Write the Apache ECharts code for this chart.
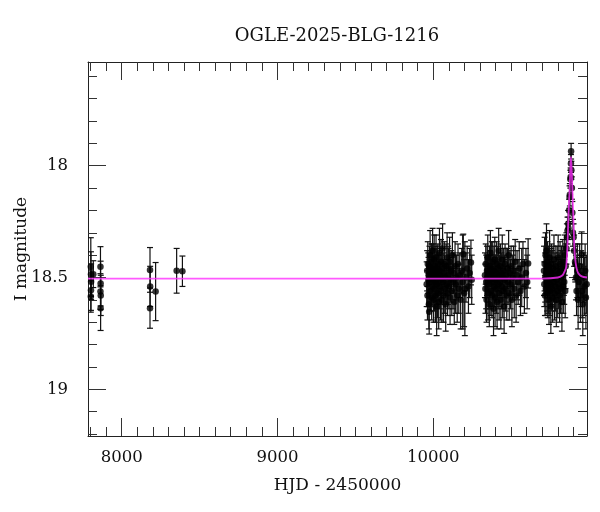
<!DOCTYPE html>
<html>
<head>
<meta charset="utf-8">
<script src="https://cdn.jsdelivr.net/npm/echarts@6/dist/echarts.min.js"></script>
<style>html,body{margin:0;padding:0;background:#fff}#c{width:600px;height:512px}</style>
</head>
<body>
<div id="c"></div>
<script>
// ---- data (HJD-2450000, I mag, error) ----
const titleText = 'OGLE-2025-BLG-1216';
const xMajor = [8000, 9000, 10000];
const xMinor = [7800, 7900, 8100, 8200, 8300, 8400, 8500, 8600, 8700, 8800, 8900, 9100, 9200, 9300, 9400, 9500, 9600, 9700, 9800, 9900, 10100, 10200, 10300, 10400, 10500, 10600, 10700, 10800, 10900];
const yMajor = [18, 18.5, 19];
const yMinor = [17.6, 17.7, 17.8, 17.9, 18.1, 18.2, 18.3, 18.4, 18.6, 18.7, 18.8, 18.9, 19.1, 19.2];

const early = [[7802,18.452,0.13],[7803,18.485,0.10],[7804,18.519,0.08],[7803,18.557,0.09],[7802,18.585,0.07],[7818,18.485,0.06],[7864,18.452,0.09],[7865,18.527,0.10],[7864,18.563,0.08],[7866,18.58,0.09],[7865,18.637,0.10]];
const mid = [[8182,18.466,0.10],[8183,18.54,0.09],[8182,18.637,0.09],[8218,18.563,0.13],[8353,18.47,0.10],[8390,18.472,0.068]];
const season4 = [[9958,18.53,.10],[9961,18.47,.09],[9963,18.58,.11],[9965,18.44,.10],[9968,18.51,.12],[9970,18.49,.08],[9972,18.62,.11],[9974,18.653,.10],[9976,18.45,.09],[9978,18.52,.10],[9980,18.40,.11],[9982,18.56,.09],[9984,18.48,.10],[9986,18.50,.12],[9988,18.43,.08],[9990,18.59,.10],[9992,18.46,.11],[9994,18.54,.09],[9996,18.38,.10],[9998,18.51,.08],[10000,18.47,.12],[10002,18.60,.10],[10004,18.49,.09],[10006,18.42,.11],[10008,18.55,.10],[10010,18.50,.13],[10012,18.45,.09],[10014,18.58,.12],[10016,18.52,.08],[10018,18.41,.10],[10020,18.48,.11],[10022,18.63,.13],[10024,18.53,.09],[10026,18.46,.10],[10028,18.57,.11],[10030,18.44,.09],[10032,18.50,.10],[10035,18.61,.12],[10037,18.47,.08],[10040,18.39,.11],[10042,18.54,.10],[10045,18.49,.09],[10047,18.56,.13],[10050,18.43,.10],[10052,18.51,.11],[10055,18.60,.10],[10058,18.46,.09],[10060,18.37,.11],[10063,18.52,.10],[10066,18.58,.12],[10068,18.48,.09],[10071,18.44,.10],[10074,18.55,.11],[10077,18.50,.08],[10080,18.62,.12],[10083,18.45,.10],[10086,18.53,.09],[10089,18.41,.11],[10092,18.57,.10],[10095,18.49,.13],[10098,18.46,.09],[10101,18.54,.10],[10105,18.43,.11],[10108,18.59,.12],[10112,18.51,.10],[10115,18.47,.09],[10119,18.56,.11],[10123,18.40,.10],[10127,18.52,.12],[10131,18.48,.09],[10135,18.61,.10],[10140,18.45,.11],[10144,18.53,.13],[10149,18.50,.10],[10154,18.58,.12],[10159,18.44,.09],[10164,18.55,.11],[10170,18.49,.10],[10176,18.60,.13],[10183,18.47,.10],[10189,18.52,.21],[10193,18.396,.09],[10198,18.57,.15],[10203,18.55,.21],[10210,18.50,.11],[10218,18.46,.10],[10226,18.54,.12],[10234,18.48,.11],[10242,18.433,.10],[10247,18.51,.11]];
const season5 = [[10332,18.49,.10],[10335,18.55,.11],[10337,18.44,.09],[10340,18.52,.12],[10342,18.60,.10],[10345,18.47,.11],[10347,18.50,.09],[10350,18.41,.10],[10352,18.57,.12],[10355,18.48,.08],[10357,18.53,.11],[10360,18.62,.10],[10362,18.45,.09],[10365,18.51,.13],[10367,18.39,.10],[10370,18.56,.11],[10372,18.49,.09],[10375,18.46,.12],[10377,18.58,.10],[10380,18.52,.11],[10382,18.43,.09],[10385,18.50,.10],[10387,18.64,.12],[10390,18.47,.11],[10392,18.54,.09],[10395,18.42,.10],[10397,18.59,.13],[10400,18.51,.10],[10402,18.48,.08],[10405,18.55,.11],[10407,18.44,.10],[10410,18.61,.12],[10412,18.50,.09],[10415,18.46,.10],[10417,18.53,.11],[10420,18.38,.10],[10423,18.57,.12],[10425,18.49,.09],[10428,18.52,.11],[10431,18.45,.10],[10434,18.60,.13],[10437,18.48,.09],[10440,18.54,.10],[10443,18.42,.11],[10446,18.56,.12],[10449,18.50,.09],[10452,18.47,.10],[10455,18.63,.12],[10458,18.51,.11],[10461,18.44,.09],[10465,18.55,.10],[10468,18.49,.12],[10472,18.58,.11],[10476,18.46,.09],[10480,18.52,.10],[10484,18.40,.11],[10488,18.57,.12],[10492,18.48,.10],[10496,18.53,.11],[10500,18.45,.09],[10505,18.60,.12],[10510,18.50,.10],[10515,18.47,.11],[10520,18.55,.13],[10526,18.43,.10],[10532,18.58,.12],[10538,18.49,.11],[10545,18.52,.10],[10552,18.46,.12],[10560,18.56,.11],[10568,18.50,.13],[10576,18.44,.10],[10585,18.54,.12],[10595,18.48,.11],[10603,18.52,.12],[10609,18.437,.11]];
const season6 = [[10711,18.47,.11],[10713,18.53,.10],[10715,18.44,.12],[10717,18.58,.09],[10719,18.50,.11],[10721,18.40,.10],[10723,18.55,.12],[10725,18.48,.09],[10727,18.38,.12],[10729,18.46,.10],[10731,18.52,.13],[10733,18.43,.09],[10735,18.57,.11],[10737,18.49,.10],[10739,18.54,.12],[10741,18.45,.09],[10743,18.60,.11],[10745,18.51,.10],[10747,18.41,.12],[10749,18.56,.11],[10751,18.47,.09],[10753,18.53,.10],[10755,18.63,.12],[10757,18.48,.11],[10759,18.44,.09],[10761,18.55,.10],[10763,18.50,.12],[10766,18.59,.11],[10769,18.46,.10],[10772,18.52,.09],[10775,18.42,.11],[10778,18.57,.12],[10781,18.49,.10],[10784,18.54,.11],[10787,18.45,.09],[10790,18.60,.12],[10793,18.51,.10],[10796,18.47,.11],[10799,18.56,.12],[10802,18.41,.10],[10805,18.53,.11],[10808,18.48,.09],[10811,18.58,.12],[10814,18.44,.10],[10817,18.55,.11],[10820,18.50,.12],[10823,18.46,.10],[10826,18.61,.13],[10829,18.49,.11],[10832,18.43,.10],[10835,18.54,.12],[10838,18.47,.11],[10841,18.52,.10],[10844,18.40,.09],[10847,18.56,.12],[10850,18.45,.10],
  [10855,18.37,.07],[10858,18.32,.06],[10862,18.29,.06],[10866,18.26,.06],[10868,18.28,.05],[10872,18.20,.05],[10875,18.14,.05],[10877,18.13,.05],[10880,18.06,.04],[10882,18.05,.04],[10884,17.99,.04],[10885,17.935,.035],[10887,18.02,.04],[10890,18.10,.05],[10893,18.21,.05],[10897,18.30,.06],[10901,18.32,.06],[10904,18.38,.07],[10910,18.43,.08],
  [10912,18.44,.08],[10916,18.50,.10],[10920,18.56,.11],[10925,18.47,.12],[10930,18.60,.13],[10935,18.52,.11],[10940,18.45,.10],[10945,18.58,.12],[10950,18.49,.11],[10953,18.396,.10],[10956,18.56,.12],[10960,18.62,.14],[10965,18.50,.11],[10970,18.54,.13],[10975,18.47,.12],[10980,18.59,.14],[10985,18.53,.13]];
const modelHJD = [7784,10700,10800,10830,10845,10853,10858,10861,10864,10867,10872,10876,10880,10884,10888,10893,10897,10900,10903,10906,10910,10919,10930,10953,10987];
const modelMag = [18.505,18.505,18.50,18.49,18.47,18.455,18.41,18.366,18.31,18.245,18.16,18.10,18.01,17.96,18.01,18.10,18.18,18.245,18.31,18.366,18.41,18.455,18.48,18.495,18.50];

// ---- chart ----
const allPts = [].concat(early, mid, season4, season5, season6);
const modelData = modelHJD.map((x, i) => [x, modelMag[i]]);
const FONT = 'DejaVu Serif';
const XMIN = 7784, XMAX = 10987, YMIN = 17.536, YMAX = 19.209;
const lineC = '#222';
const plain = v => String(v);

function xAx(pos, ticks, len, labels, showLine, extra) {
  return Object.assign({
    type: 'value', position: pos, min: XMIN, max: XMAX, gridIndex: 0,
    axisLine: { show: showLine, onZero: false, lineStyle: { color: lineC, width: 1 } },
    axisTick: { show: true, inside: true, length: len, customValues: ticks, lineStyle: { color: '#333', width: 1 } },
    axisLabel: labels ? { show: true, customValues: ticks, formatter: plain, margin: 13, color: '#111', fontFamily: FONT, fontSize: 16.5 } : { show: false },
    splitLine: { show: false }
  }, extra || {});
}
function yAx(pos, ticks, len, labels, showLine, extra) {
  return Object.assign({
    type: 'value', position: pos, min: YMIN, max: YMAX, inverse: true, gridIndex: 0,
    axisLine: { show: showLine, onZero: false, lineStyle: { color: lineC, width: 1 } },
    axisTick: { show: true, inside: true, length: len, customValues: ticks, lineStyle: { color: '#333', width: 1 } },
    axisLabel: labels ? { show: true, customValues: ticks, formatter: plain, margin: 20, color: '#111', fontFamily: FONT, fontSize: 16.5 } : { show: false },
    splitLine: { show: false }
  }, extra || {});
}

const chart = echarts.init(document.getElementById('c'), null, { renderer: 'canvas' });
chart.setOption({
  animation: false,
  backgroundColor: '#fff',
  graphic: [{ type: 'text', x: 337, y: 36, style: { text: titleText, fill: '#111', font: '18px "DejaVu Serif"', textAlign: 'center', textVerticalAlign: 'middle' } }],
  grid: { left: 88, top: 62, width: 499, height: 374, containLabel: false, outerBoundsMode: 'none' },
  xAxis: [
    xAx('bottom', xMajor, 18, true, true, { name: 'HJD - 2450000', nameLocation: 'middle', nameGap: 41, nameMoveOverlap: false, nameTextStyle: { fontFamily: FONT, fontSize: 17, color: '#111' } }),
    xAx('bottom', xMinor, 9, false, false),
    xAx('top', xMajor, 18, false, true),
    xAx('top', xMinor, 9, false, false)
  ],
  yAxis: [
    yAx('left', yMajor, 18, true, true, { name: 'I magnitude', nameLocation: 'middle', nameGap: 58, nameRotate: 90, nameMoveOverlap: false, nameTextStyle: { fontFamily: FONT, fontSize: 17, color: '#111' } }),
    yAx('left', yMinor, 9, false, false),
    yAx('right', yMajor, 18, false, true),
    yAx('right', yMinor, 9, false, false)
  ],
  series: [
    {
      type: 'custom', xAxisIndex: 0, yAxisIndex: 0, data: allPts, clip: true, z: 2,
      encode: { x: 0, y: 1 },
      renderItem: function (params, api) {
        const x = api.value(0), y = api.value(1), e = api.value(2);
        const t = api.coord([x, y - e]), b = api.coord([x, y + e]);
        const hw = 3, st = { stroke: '#111', lineWidth: 1.2 };
        return { type: 'group', children: [
          { type: 'line', shape: { x1: t[0], y1: t[1], x2: b[0], y2: b[1] }, style: st },
          { type: 'line', shape: { x1: t[0] - hw, y1: t[1], x2: t[0] + hw, y2: t[1] }, style: st },
          { type: 'line', shape: { x1: b[0] - hw, y1: b[1], x2: b[0] + hw, y2: b[1] }, style: st }
        ] };
      }
    },
    {
      type: 'scatter', xAxisIndex: 0, yAxisIndex: 0, z: 3,
      data: allPts.map(p => [p[0], p[1]]),
      symbol: 'circle', symbolSize: 6.5, itemStyle: { color: '#000' }
    },
    {
      type: 'line', xAxisIndex: 0, yAxisIndex: 0, z: 4, data: modelData,
      showSymbol: false, symbol: 'none', smooth: 0.3,
      lineStyle: { color: '#ff30ff', width: 1.8, opacity: 0.8 }
    }
  ]
});
</script>
</body>
</html>
